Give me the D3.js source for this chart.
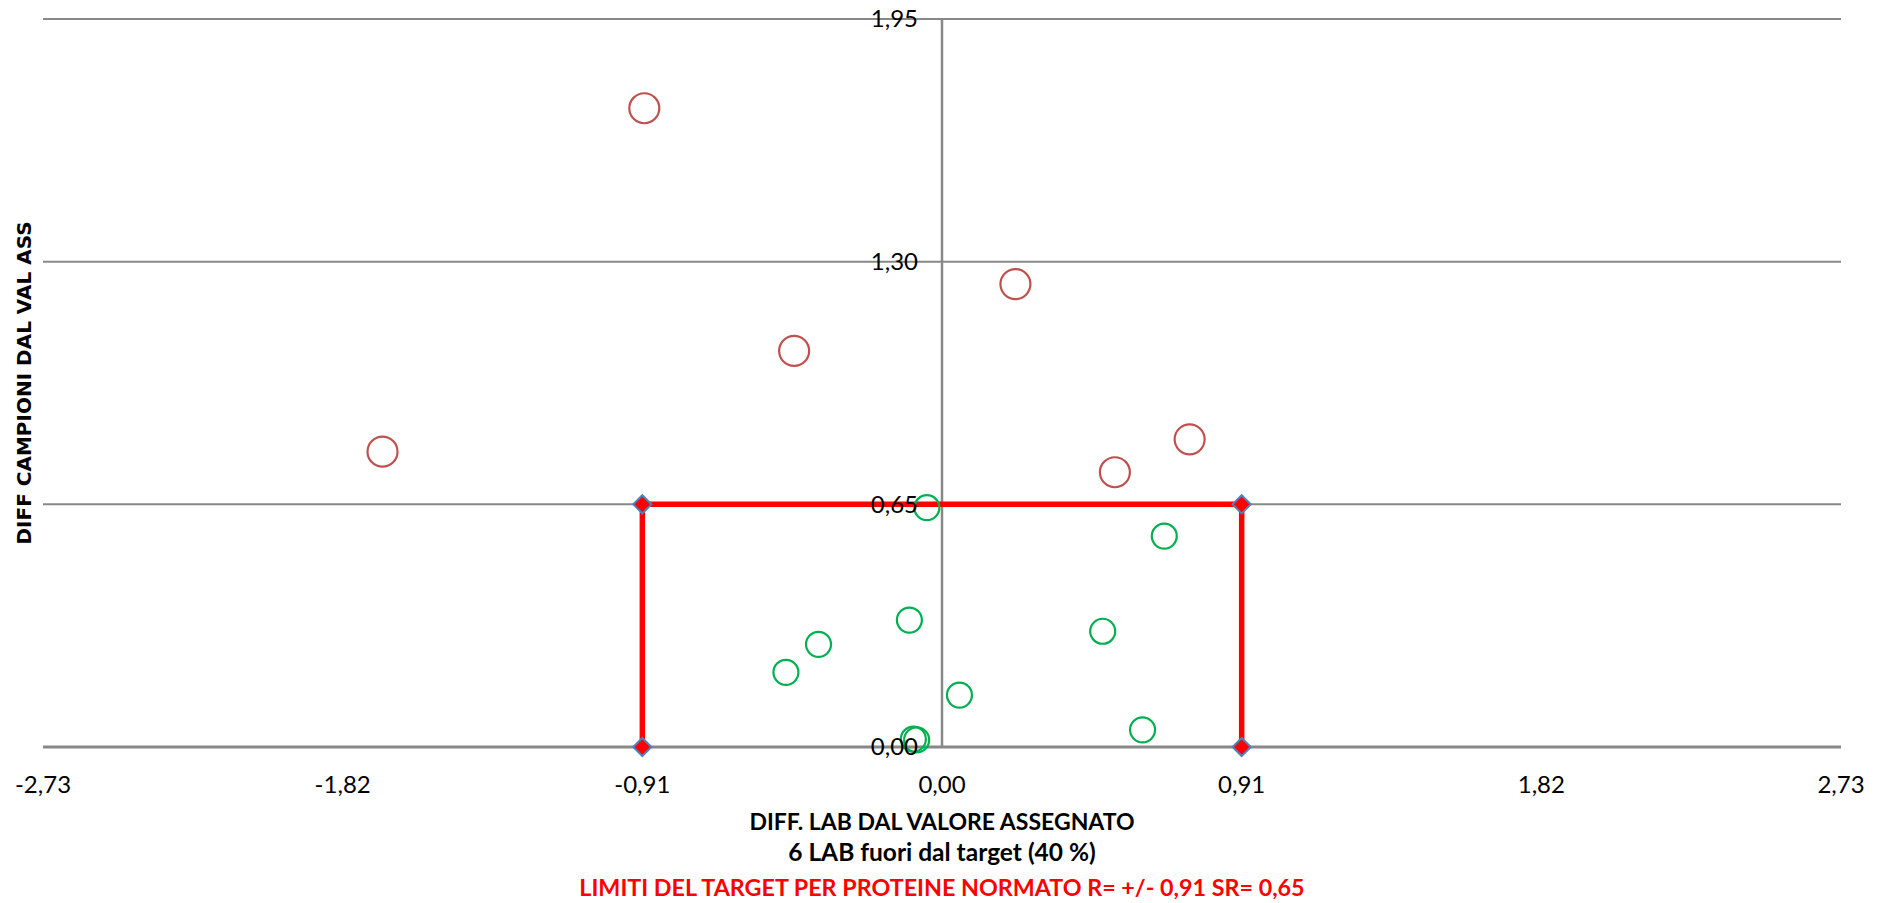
<!DOCTYPE html>
<html>
<head>
<meta charset="utf-8">
<script src="https://cdn.jsdelivr.net/npm/d3@7"></script>
<style>
  html, body { margin: 0; padding: 0; background: #ffffff; }
  svg { display: block; }
</style>
</head>
<body>
<svg id="chart" width="1888" height="903"></svg>
<script>
// ---- Data ----
const xTicks = [-2.73, -1.82, -0.91, 0.00, 0.91, 1.82, 2.73];
const xTickLabels = ["-2,73", "-1,82", "-0,91", "0,00", "0,91", "1,82", "2,73"];
const yTicks = [0.00, 0.65, 1.30, 1.95];
const yTickLabels = ["0,00", "0,65", "1,30", "1,95"];

// labs outside target (red)
const outX = [-0.904, 0.223, -0.449, -1.699, 0.752, 0.525];
const outY = [1.711, 1.240, 1.061, 0.791, 0.824, 0.736];

// labs inside target (green)
const inX = [-0.046, -0.099, -0.375, -0.474, 0.053, -0.087, -0.077, 0.675, 0.488, 0.609];
const inY = [0.641, 0.340, 0.275, 0.200, 0.139, 0.021, 0.019, 0.565, 0.310, 0.046];

// target limits polyline
const limitX = [-0.91, -0.91, 0.91, 0.91];
const limitY = [0.00, 0.65, 0.65, 0.00];

const xTitle = "DIFF. LAB DAL VALORE ASSEGNATO";
const subTitle = "6 LAB fuori dal target (40 %)";
const limitTitle = "LIMITI DEL TARGET PER PROTEINE NORMATO R= +/- 0,91 SR= 0,65";
const yTitle = "DIFF CAMPIONI DAL VAL ASS";

// ---- Chart ----
const svg = d3.select("#chart");
const x = d3.scaleLinear().domain([-2.73, 2.73]).range([43, 1841]);
const y = d3.scaleLinear().domain([0, 1.95]).range([747, 19]);

const gridColor = "#888888";
const numFont = "Lato, 'Open Sans', sans-serif";

// horizontal gridlines
svg.append("g").selectAll("line")
  .data(yTicks.filter(d => d !== 0))
  .join("line")
  .attr("x1", x(-2.73)).attr("x2", x(2.73))
  .attr("y1", d => y(d)).attr("y2", d => y(d))
  .attr("stroke", gridColor).attr("stroke-width", 2);

// vertical axis line at x = 0
svg.append("line")
  .attr("x1", x(0)).attr("x2", x(0))
  .attr("y1", y(1.95)).attr("y2", y(0))
  .attr("stroke", gridColor).attr("stroke-width", 2.5);

// horizontal axis line at y = 0
svg.append("line")
  .attr("x1", x(-2.73)).attr("x2", x(2.73))
  .attr("y1", y(0)).attr("y2", y(0))
  .attr("stroke", gridColor).attr("stroke-width", 3);

// target limits
const limitPts = limitX.map((v, i) => [v, limitY[i]]);
svg.append("path")
  .datum(limitPts)
  .attr("d", d3.line().x(d => x(d[0])).y(d => y(d[1])))
  .attr("fill", "none")
  .attr("stroke", "#FF0000")
  .attr("stroke-width", 5.5);

svg.append("g").selectAll("path")
  .data(limitPts)
  .join("path")
  .attr("d", d3.symbol().type(d3.symbolDiamond2).size(210))
  .attr("transform", d => `translate(${x(d[0])},${y(d[1])})`)
  .attr("fill", "#FF0000")
  .attr("stroke", "#4F81BD")
  .attr("stroke-width", 2);

// green points
svg.append("g").selectAll("circle")
  .data(inX.map((v, i) => [v, inY[i]]))
  .join("circle")
  .attr("cx", d => x(d[0])).attr("cy", d => y(d[1]))
  .attr("r", 12.5)
  .attr("fill", "none")
  .attr("stroke", "#00B050")
  .attr("stroke-width", 2.2);

// red points
svg.append("g").selectAll("circle")
  .data(outX.map((v, i) => [v, outY[i]]))
  .join("circle")
  .attr("cx", d => x(d[0])).attr("cy", d => y(d[1]))
  .attr("r", 15)
  .attr("fill", "none")
  .attr("stroke", "#C0504D")
  .attr("stroke-width", 2.2);

// y tick labels
svg.append("g").selectAll("text")
  .data(yTicks)
  .join("text")
  .attr("x", x(0) - 24)
  .attr("y", d => y(d))
  .attr("dy", "0.35em")
  .attr("text-anchor", "end")
  .attr("font-family", numFont)
  .attr("font-size", 24)
  .attr("fill", "#000")
  .text((d, i) => yTickLabels[i]);

// x tick labels
svg.append("g").selectAll("text")
  .data(xTicks)
  .join("text")
  .attr("x", d => x(d))
  .attr("y", 793)
  .attr("text-anchor", "middle")
  .attr("font-family", numFont)
  .attr("font-size", 24)
  .attr("fill", "#000")
  .text((d, i) => xTickLabels[i]);

// x titles
svg.append("text")
  .attr("x", x(0)).attr("y", 830)
  .attr("text-anchor", "middle")
  .attr("font-family", numFont).attr("font-weight", "bold")
  .attr("font-size", 23).attr("fill", "#000")
  .text(xTitle);

svg.append("text")
  .attr("x", x(0)).attr("y", 861)
  .attr("text-anchor", "middle")
  .attr("font-family", numFont).attr("font-weight", "bold")
  .attr("font-size", 24.5).attr("fill", "#000")
  .text(subTitle);

svg.append("text")
  .attr("x", x(0)).attr("y", 896)
  .attr("text-anchor", "middle")
  .attr("font-family", numFont).attr("font-weight", "bold")
  .attr("font-size", 23.3).attr("fill", "#FF0000")
  .text(limitTitle);

// y title
svg.append("text")
  .attr("transform", `translate(31,${(y(0) + y(1.95)) / 2}) rotate(-90)`)
  .attr("text-anchor", "middle")
  .attr("font-family", "'DejaVu Sans', Verdana, sans-serif").attr("font-weight", "bold")
  .attr("font-size", 20).attr("fill", "#000")
  .text(yTitle);
</script>
</body>
</html>
